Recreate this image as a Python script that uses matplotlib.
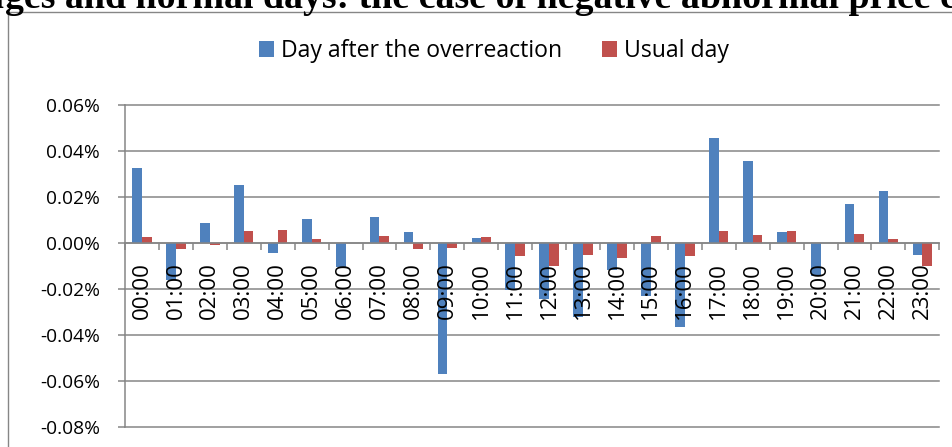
import matplotlib
matplotlib.use('Agg')
import matplotlib.pyplot as plt
from matplotlib.patches import Patch, Rectangle
from matplotlib.ticker import FuncFormatter, FixedLocator

hours = ['00:00', '01:00', '02:00', '03:00', '04:00', '05:00', '06:00', '07:00',
         '08:00', '09:00', '10:00', '11:00', '12:00', '13:00', '14:00', '15:00',
         '16:00', '17:00', '18:00', '19:00', '20:00', '21:00', '22:00', '23:00']

# values in %
day_after = [0.0324, -0.0163, 0.0087, 0.0250, -0.0042, 0.0103, -0.0107, 0.0112,
             0.0048, -0.0572, 0.0022, -0.0206, -0.0244, -0.0322, -0.0120, -0.0231,
             -0.0367, 0.0456, 0.0356, 0.0048, -0.0142, 0.0167, 0.0225, -0.0052]
usual_day = [0.0025, -0.0026, -0.0010, 0.0052, 0.0055, 0.0016, 0.0000, 0.0030,
             -0.0028, -0.0022, 0.0026, -0.0057, -0.0099, -0.0051, -0.0064, 0.0029,
             -0.0058, 0.0051, 0.0033, 0.0051, 0.0000, 0.0038, 0.0017, -0.0102]

y_ticks = [-0.08, -0.06, -0.04, -0.02, 0.0, 0.02, 0.04, 0.06]

blue = '#4F81BD'
red = '#C0504D'
grey = '#868686'

plt.rcParams['font.family'] = ['Open Sans', 'DejaVu Sans']

W, H = 953, 447
fig = plt.figure(figsize=(W / 100, H / 100), dpi=100)

# outer chart border (extends past the right and bottom edges)
fig.patches.append(Rectangle((8 / W, -0.2), 2, (H - 12) / H + 0.2, transform=fig.transFigure,
                             fill=False, edgecolor=grey, linewidth=1.0))

# cropped caption above the chart
fig.text(5 / W, 1 - 8 / H, 'chan', ha='right', va='baseline', fontsize=27.3,
         fontweight='bold', family='Liberation Serif')
fig.text(5 / W, 1 - 8 / H, 'ges and normal days: the case of negative abnormal price changes',
         ha='left', va='baseline', fontsize=27.3, fontweight='bold', family='Liberation Serif')

ax = fig.add_axes([125 / W, (H - 426.7) / H, (939.3 - 125) / W, (426.7 - 105) / H])

x = list(range(len(hours)))
w = 1 / 3.5
ax.bar([i - w / 2 for i in x], day_after, width=w, color=blue, zorder=1)
ax.bar([i + w / 2 for i in x], usual_day, width=w, color=red, zorder=1)

ax.set_xlim(-0.5, 23.5)
ax.set_ylim(-0.08, 0.06)

for t in y_ticks:
    ax.axhline(t, color=grey, linewidth=1.1, zorder=0.5, clip_on=False)

for s in ['top', 'right']:
    ax.spines[s].set_visible(False)
ax.spines['bottom'].set_position(('data', 0))
ax.spines['bottom'].set_color(grey)
ax.spines['left'].set_color(grey)
ax.spines['bottom'].set_linewidth(1.1)
ax.spines['left'].set_linewidth(1.1)

ax.set_yticks(y_ticks)
ax.yaxis.set_major_formatter(FuncFormatter(lambda v, p: f'{v:.2f}%'))
ax.tick_params(axis='y', length=5, width=1.1, color=grey, pad=13, labelsize=13.8)

ax.set_xticks(x)
ax.set_xticklabels(hours, rotation=90)
ax.xaxis.set_minor_locator(FixedLocator([i - 0.5 for i in range(len(hours) + 1)]))
ax.tick_params(axis='x', which='major', length=0, pad=14, labelsize=16)
ax.tick_params(axis='x', which='minor', length=5, width=1.1, color=grey, direction='out')

handles = [Patch(facecolor=blue), Patch(facecolor=red)]
fig.legend(handles, ['Day after the overreaction', 'Usual day'], loc='center',
           bbox_to_anchor=(494 / W, 1 - 51 / H), ncol=2, frameon=False, fontsize=16.6,
           handlelength=0.66, handleheight=0.66, handletextpad=0.3, columnspacing=1.7)

fig.savefig('out.png', dpi=100)
